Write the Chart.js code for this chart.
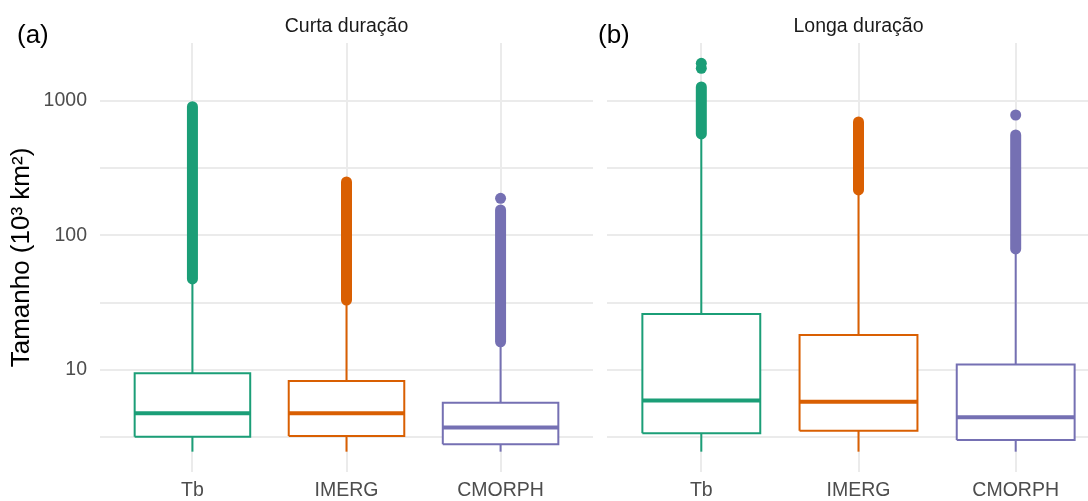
<!DOCTYPE html>
<html lang="pt">
<head>
<meta charset="UTF-8">
<script src="https://cdn.jsdelivr.net/npm/chart.js"></script>
<title>Tamanho - curta e longa duração</title>
<style>
  html, body { margin: 0; padding: 0; background: #fff; overflow: hidden; }
  #wrap { position: relative; width: 1088px; height: 501px; overflow: hidden; }
  #curta { position: absolute; left: 0; top: 0; }
  #longa { position: absolute; left: 590px; top: 0; }
</style>
</head>
<body>
<div id="wrap">
  <canvas id="curta" width="600" height="501"></canvas>
  <canvas id="longa" width="527" height="501"></canvas>
</div>
<script>
// categories and colours
const categories = ['Tb', 'IMERG', 'CMORPH'];
const colors = ['#1B9E77', '#D95F02', '#7570B3'];

// y axis (log) ticks
const yTicks = [3.162, 10, 31.62, 100, 316.2, 1000];
const yTickLabels = ['', '10', '', '100', '', '1000'];

// (a) Curta duração  (10^3 km^2)
const curtaLower   = [2.47, 2.47, 2.47];
const curtaQ1      = [3.19, 3.23, 2.80];
const curtaMedian  = [4.77, 4.77, 3.73];
const curtaQ3      = [9.45, 8.28, 5.71];
const curtaUpper   = [46, 32, 15.8];
const curtaOutLow  = [47.5, 33.1, 16.2];
const curtaOutHigh = [907, 250, 155];
const curtaOutExtra = [[], [], [189]];

// (b) Longa duração
const longaLower   = [2.47, 2.47, 2.47];
const longaQ1      = [3.38, 3.54, 3.02];
const longaMedian  = [5.92, 5.81, 4.45];
const longaQ3      = [26.1, 18.2, 11.0];
const longaUpper   = [545, 210, 76];
const longaOutLow  = [569, 218, 79.4];
const longaOutHigh = [1271, 698, 559];
const longaOutExtra = [[1750, 1906], [], [787]];

const boxHalf = 0.375;

function boxDatasets(s) {
  const sets = [];
  categories.forEach((cat, i) => {
    const x = i + 1;
    const c = colors[i];
    const base = { type: 'line', borderColor: c, pointRadius: 0, fill: false, tension: 0 };
    // median on top
    sets.push({ ...base, borderWidth: 4, borderCapStyle: 'butt',
      data: [{ x: x - boxHalf, y: s.median[i] }, { x: x + boxHalf, y: s.median[i] }] });
    // box
    sets.push({ ...base, borderWidth: 2, borderJoinStyle: 'miter', fill: 'shape', backgroundColor: '#ffffff',
      data: [
        { x: x - boxHalf, y: s.q1[i] }, { x: x + boxHalf, y: s.q1[i] },
        { x: x + boxHalf, y: s.q3[i] }, { x: x - boxHalf, y: s.q3[i] },
        { x: x - boxHalf, y: s.q1[i] }
      ] });
    // whiskers
    sets.push({ ...base, borderWidth: 2, data: [{ x: x, y: s.q3[i] }, { x: x, y: s.upper[i] }] });
    sets.push({ ...base, borderWidth: 2, data: [{ x: x, y: s.lower[i] }, { x: x, y: s.q1[i] }] });
    // dense outliers
    sets.push({ ...base, borderWidth: 11, borderCapStyle: 'round',
      data: [{ x: x, y: s.outLow[i] }, { x: x, y: s.outHigh[i] }] });
    if (s.extra[i].length) {
      sets.push({ type: 'scatter', backgroundColor: c, borderWidth: 0, pointRadius: 5.5,
        data: s.extra[i].map(v => ({ x: x, y: v })) });
    }
  });
  return sets;
}

const panelText = {
  id: 'panelText',
  afterDraw(chart, args, opts) {
    const { ctx, chartArea } = chart;
    ctx.save();
    ctx.fillStyle = '#1A1A1A';
    ctx.font = '19.5px "Liberation Sans", Arial, sans-serif';
    ctx.textAlign = 'center';
    ctx.textBaseline = 'alphabetic';
    ctx.fillText(opts.strip, (chartArea.left + chartArea.right) / 2, 32);
    ctx.fillStyle = '#000';
    ctx.font = '26px "Liberation Sans", Arial, sans-serif';
    ctx.textAlign = 'left';
    ctx.fillText(opts.tag, opts.tagX, 43);
    ctx.restore();
  }
};

function makePanel(id, s, strip, tag, tagX, showY, padLeft, xMax) {
  return new Chart(document.getElementById(id), {
    type: 'line',
    data: { datasets: boxDatasets(s) },
    plugins: [panelText],
    options: {
      responsive: false,
      animation: false,
      events: [],
      layout: { padding: { left: padLeft, right: 7, top: 43, bottom: 0 } },
      scales: {
        x: {
          type: 'linear', min: 0.4, max: xMax,
          afterBuildTicks: axis => { axis.ticks = categories.map((c, i) => ({ value: i + 1 })); },
          afterFit: axis => { axis.height = 29; },
          ticks: {
            padding: 7, color: '#4D4D4D', maxRotation: 0, autoSkip: false,
            font: { family: '"Liberation Sans", Arial, sans-serif', size: 19.5 },
            callback: (v, i) => categories[i]
          },
          grid: { color: '#EBEBEB', lineWidth: 2, drawTicks: false },
          border: { display: false }
        },
        y: {
          type: 'logarithmic', min: 1.744, max: 2699,
          afterBuildTicks: axis => { axis.ticks = yTicks.map(v => ({ value: v })); },
          afterFit: axis => { axis.width = showY ? 100 : 0; },
          ticks: {
            display: showY, padding: 13, color: '#4D4D4D', autoSkip: false,
            font: { family: '"Liberation Sans", Arial, sans-serif', size: 19.5 },
            callback: (v, i) => yTickLabels[i]
          },
          title: {
            display: showY, text: 'Tamanho (10³ km²)', color: '#000',
            font: { family: '"Liberation Sans", Arial, sans-serif', size: 26 },
            padding: { top: 6, bottom: 0 }
          },
          grid: { color: '#EBEBEB', lineWidth: 2, drawTicks: false },
          border: { display: false }
        }
      },
      plugins: {
        legend: { display: false },
        tooltip: { enabled: false },
        panelText: { strip: strip, tag: tag, tagX: tagX }
      }
    }
  });
}

makePanel('curta', {
  lower: curtaLower, q1: curtaQ1, median: curtaMedian, q3: curtaQ3, upper: curtaUpper,
  outLow: curtaOutLow, outHigh: curtaOutHigh, extra: curtaOutExtra
}, 'Curta duração', '(a)', 17, true, 0, 3.6);

makePanel('longa', {
  lower: longaLower, q1: longaQ1, median: longaMedian, q3: longaQ3, upper: longaUpper,
  outLow: longaOutLow, outHigh: longaOutHigh, extra: longaOutExtra
}, 'Longa duração', '(b)', 8, false, 17, 3.6);
</script>
</body>
</html>
